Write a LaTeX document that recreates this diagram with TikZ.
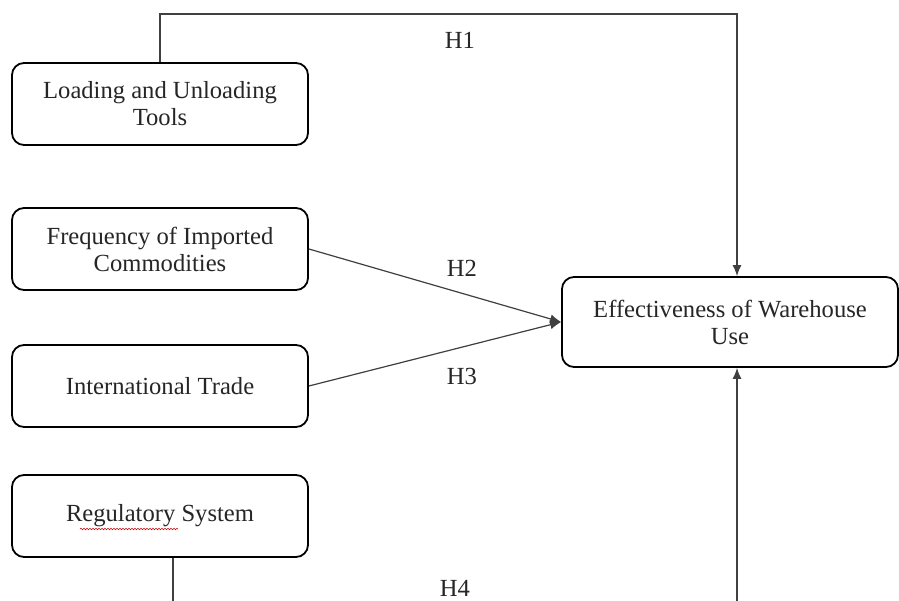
\documentclass[tikz,border=0pt]{standalone}
\usepackage{fontspec}
\setmainfont{Liberation Serif}
\usetikzlibrary{arrows.meta,decorations.pathmorphing}
\tikzset{
  box/.style={draw=black, line width=1.8pt, rounded corners=12pt, minimum width=296pt, minimum height=82pt, inner sep=0pt, align=center, font=\fontsize{24.6}{27}\selectfont, text=black!85},
  conn/.style={draw=black!75, line width=1.2pt},
  tip/.style={-{Latex[length=11pt,width=9pt]}},
  hlabel/.style={font=\fontsize{24.6}{27}\selectfont, text=black!85, inner sep=0pt}
}
\begin{document}
\begin{tikzpicture}[x=1pt,y=-1pt]
\useasboundingbox (0,0) rectangle (899,601);
\fill[white] (0,0) rectangle (899,601);
\clip (0,0) rectangle (899,601);
\node[box] (L) at (160,104) {Loading and Unloading\\Tools};
\node[box] (F) at (160,249) {Frequency of Imported\\Commodities};
\node[box] (I) at (160,386) {International Trade};
\node[box] (R) at (160,516) {Regulatory System};
\node[box, minimum width=336pt, minimum height=90pt] (E) at (730,322) {Effectiveness of Warehouse\\Use};
\coordinate (top) at (160,14);
\coordinate (bot) at (173,630);
\draw[conn, tip] (L.north) -- (top) -| ([xshift=7pt]E.north);
\draw[conn, tip] (F.east) -- (E.west);
\draw[conn, tip] (I.east) -- (E.west);
\draw[conn, tip] ([xshift=13pt]R.south) -- (bot) -| ([xshift=7pt]E.south);
\node[hlabel] (h1) at (460,40) {H1};
\node[hlabel] (h2) at (462,268) {H2};
\node[hlabel] (h3) at (462,376) {H3};
\node[hlabel] (h4) at (455,588) {H4};
\draw[red!80!black, line width=0.5pt, decorate, decoration={snake, amplitude=0.8pt, segment length=3pt}] (80,529) -- (178,529);
\end{tikzpicture}
\end{document}
